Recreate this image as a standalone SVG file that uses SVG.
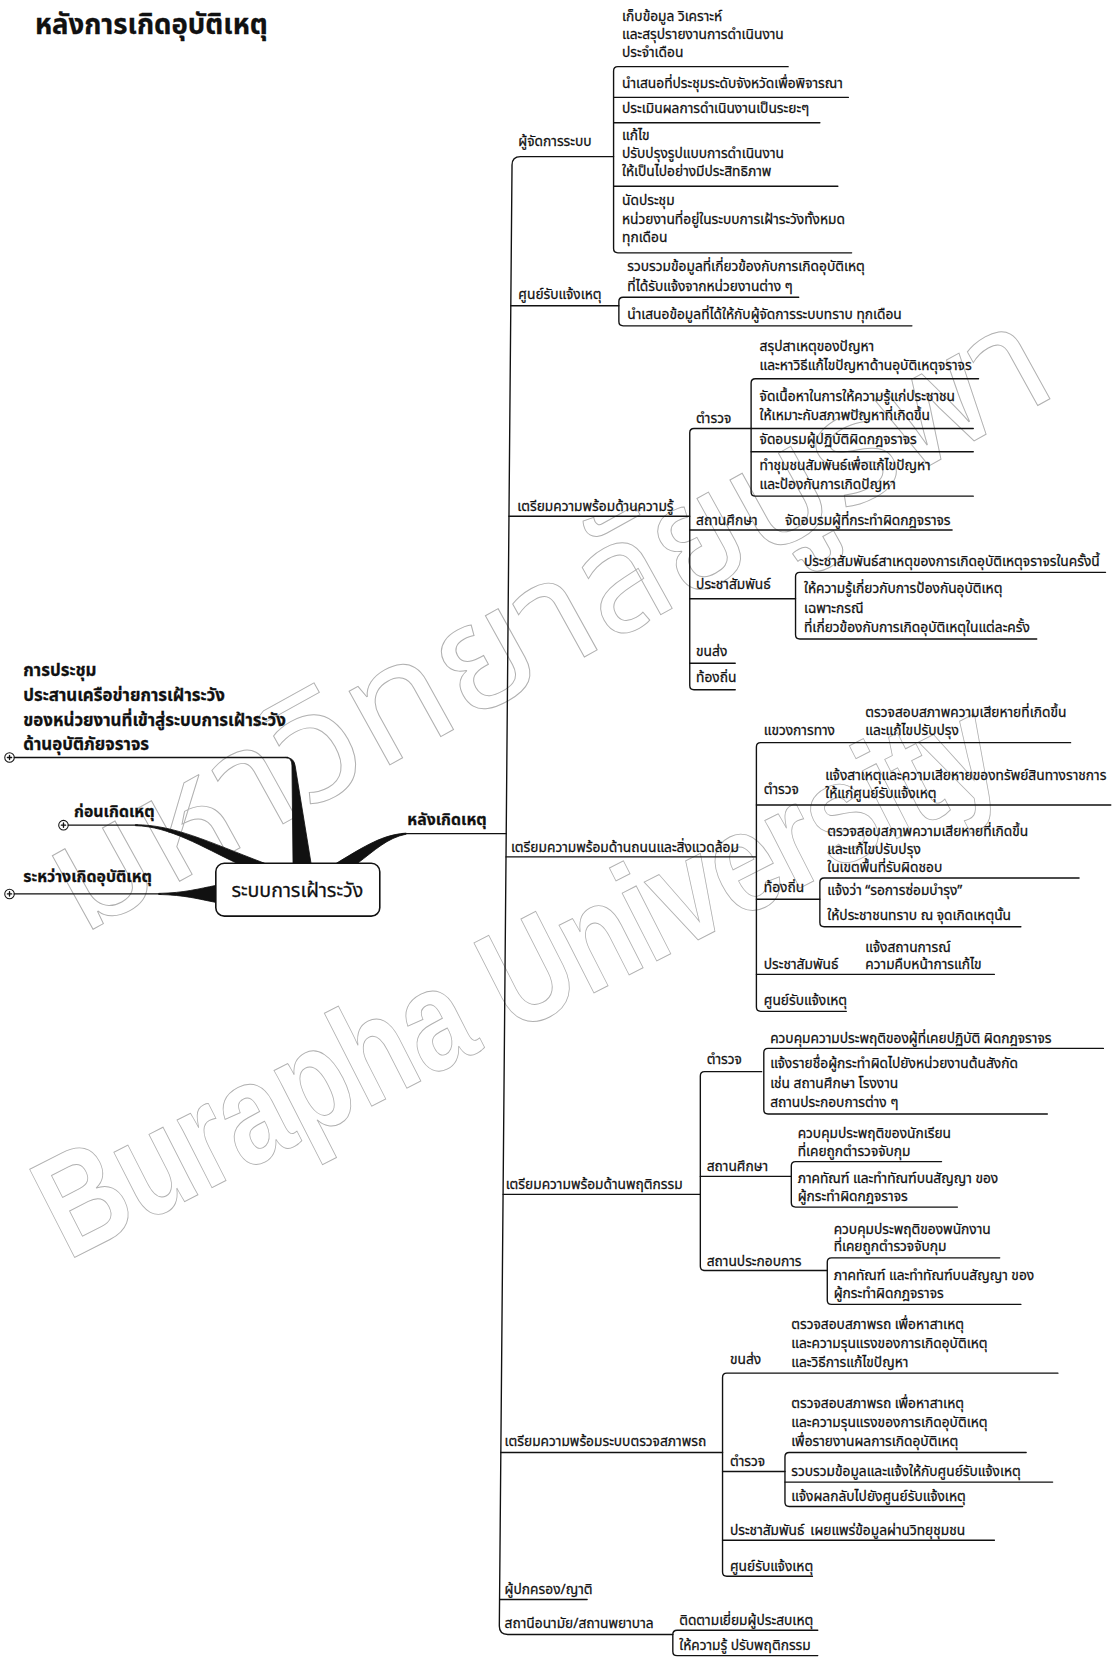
<svg xmlns="http://www.w3.org/2000/svg" width="1115" height="1658" viewBox="0 0 1115 1658">
<style>
.t{font-family:"Noto Sans Thai","Noto Sans Thai UI","Loma","Garuda","Tlwg Typo","Tahoma","Noto Sans",sans-serif;font-size:13px;fill:#111;stroke:#111;stroke-width:0.25px}
.b{font-weight:bold;font-size:15px}
.bl{font-weight:bold;font-size:16px}
.ttl{font-weight:bold;font-size:26px}
.ctr{font-size:18.5px;text-anchor:middle}
.ln{fill:none;stroke:#111;stroke-width:1.3;stroke-linecap:round;stroke-linejoin:round}
.wedge{fill:#111;stroke:#111;stroke-width:0.8}
.wm{fill:none;stroke:#b0b0b0;stroke-width:0.9;font-size:145px;font-family:"Noto Sans Thai","Loma","Garuda","Tahoma","Liberation Sans",sans-serif}
.wml{fill:none;stroke:#b0b0b0;stroke-width:0.9;font-size:136px;font-family:"Liberation Sans",Arial,sans-serif;font-weight:bold}
</style>
<rect width="1115" height="1658" fill="#fff"/>
<g transform="scale(1.0579)">
<g id="watermark">
<text class="wm" transform="translate(76,885) rotate(-29)" textLength="245" lengthAdjust="spacingAndGlyphs">มหา</text>
<text class="wm" transform="translate(290.3,766.2) rotate(-29)" textLength="326" lengthAdjust="spacingAndGlyphs">วิทยา</text>
<text class="wm" transform="translate(575.4,608.2) rotate(-29)" textLength="163" lengthAdjust="spacingAndGlyphs">ลัย</text>
<text class="wm" transform="translate(718,529.2) rotate(-29)" textLength="326" lengthAdjust="spacingAndGlyphs">บูรพา</text>
<text class="wml" transform="translate(64,1192) rotate(-27)" textLength="442" lengthAdjust="spacingAndGlyphs">Burapha</text>
<text class="wml" transform="translate(484.6,977.7) rotate(-27)" textLength="527" lengthAdjust="spacingAndGlyphs">University</text>
</g>
<g id="title"><text class="t ttl" x="33" y="32">หลังการเกิดอุบัติเหตุ</text></g>

<g id="connectors">
<circle cx="9" cy="716" r="4.5" fill="#fff" stroke="#111" stroke-width="1"/>
<path class="ln" d="M7 716 H11 M9 714 V718" stroke-width="0.8"/>
<path class="ln" d="M13.5 716 H272"/>
<path class="wedge" d="M270 716 Q276 716 276 724 L277 816 L294 816 L279 724 Q278 716 270 716 Z"/>
<circle cx="60" cy="780" r="4.5" fill="#fff" stroke="#111" stroke-width="1"/>
<path class="ln" d="M58 780 H62 M60 778 V782" stroke-width="0.8"/>
<path class="ln" d="M64.5 780 H130"/>
<path class="wedge" d="M128 779.5 C165 780 195 795 250 816 L224 816 C192 801 160 781 128 780.5 Z"/>
<circle cx="9" cy="845" r="4.5" fill="#fff" stroke="#111" stroke-width="1"/>
<path class="ln" d="M7 845 H11 M9 843 V847" stroke-width="0.8"/>
<path class="ln" d="M13.5 845 H152"/>
<path class="wedge" d="M150 844.5 C175 844 188 840 204 837 L204 853 C188 850 175 846 150 845.5 Z"/>
<path class="ln" d="M380 788 H478.5"/>
<path class="wedge" d="M384 787.5 C362 789 346 799 318 816 L338 816 C354 804 366 792 384 788.5 Z"/>
<path class="ln" d="M580 148 H492 Q484 148 484 156 L472 1537 Q472 1545 480 1545 H636"/>
<path class="ln" d="M745 63 H584 Q580 63 580 67 V235 Q580 239 584 239 H805"/>
<path class="ln" d="M580 92 H802 M580 116 H775 M580 176 H792"/>
<path class="ln" d="M482.8 289 H585"/>
<path class="ln" d="M755 281 H589 Q585 281 585 285 V304 Q585 308 589 308 H862"/>
<path class="ln" d="M481 488 H652"/>
<path class="ln" d="M710 405 H656 Q652 405 652 409 V648 Q652 652 656 652 H695"/>
<path class="ln" d="M652 501 H900 M652 566 H752 M652 627 H695"/>
<path class="ln" d="M925 358 H714 Q710 358 710 362 V465 Q710 469 714 469 H920"/>
<path class="ln" d="M710 405 H920 M710 427 H920"/>
<path class="ln" d="M1045 541 H756 Q752 541 752 545 V600 Q752 604 756 604 H980"/>
<path class="ln" d="M478.3 810 H715"/>
<path class="ln" d="M1012 702 H719 Q715 702 715 706 V952 Q715 956 719 956 H800"/>
<path class="ln" d="M715 761 H1050 M715 850 H775 M715 921 H940"/>
<path class="ln" d="M1020 830 H779 Q775 830 775 834 V872 Q775 876 779 876 H965"/>
<path class="ln" d="M475.6 1129 H662"/>
<path class="ln" d="M720 1013 H666 Q662 1013 662 1017 V1197 Q662 1201 666 1201 H782"/>
<path class="ln" d="M1043 991 H726 Q722 991 722 995 V1049 Q722 1053 726 1053 H990"/>
<path class="ln" d="M662 1112 H748"/>
<path class="ln" d="M890 1098 H752 Q748 1098 748 1102 V1137 Q748 1141 752 1141 H905"/>
<path class="ln" d="M945 1189 H786 Q782 1189 782 1193 V1229 Q782 1233 786 1233 H965"/>
<path class="ln" d="M473.5 1373 H683"/>
<path class="ln" d="M1000 1298 H687 Q683 1298 683 1302 V1486 Q683 1490 687 1490 H768"/>
<path class="ln" d="M683 1391 H742 M683 1456 H940"/>
<path class="ln" d="M970 1373 H746 Q742 1373 742 1377 V1420 Q742 1424 746 1424 H910"/>
<path class="ln" d="M742 1401 H995"/>
<path class="ln" d="M472.3 1512 H555"/>
<path class="ln" d="M773 1541 H640 Q636 1541 636 1545 V1561 Q636 1565 640 1565 H773"/>
</g>

<g id="left-meeting"><text class="t bl" x="22" y="639">การประชุม</text><text class="t bl" x="22" y="663">ประสานเครือข่ายการเฝ้าระวัง</text><text class="t bl" x="22" y="686">ของหน่วยงานที่เข้าสู่ระบบการเฝ้าระวัง</text><text class="t bl" x="22" y="709">ด้านอุบัติภัยจราจร</text></g>
<g id="left-before"><text class="t b" x="70" y="772">ก่อนเกิดเหตุ</text></g>
<g id="left-during"><text class="t b" x="22" y="834">ระหว่างเกิดอุบัติเหตุ</text></g>
<g id="center"><rect x="204" y="816" width="155" height="50" rx="8" fill="#fff" stroke="#111" stroke-width="1.5"/><text class="t ctr" x="281" y="848">ระบบการเฝ้าระวัง</text></g>
<g id="after"><text class="t b" x="385" y="780" font-size="14.5">หลังเกิดเหตุ</text></g>

<g id="s1"><text class="t" x="490" y="138">ผู้จัดการระบบ</text></g>
<g id="s1c1"><text class="t" x="588" y="20">เก็บข้อมูล วิเคราะห์</text><text class="t" x="588" y="37">และสรุปรายงานการดำเนินงาน</text><text class="t" x="588" y="54">ประจำเดือน</text></g>
<g id="s1c2"><text class="t" x="588" y="83">นำเสนอที่ประชุมระดับจังหวัดเพื่อพิจารณา</text></g>
<g id="s1c3"><text class="t" x="588" y="107">ประเมินผลการดำเนินงานเป็นระยะๆ</text></g>
<g id="s1c4"><text class="t" x="588" y="132">แก้ไข</text><text class="t" x="588" y="149">ปรับปรุงรูปแบบการดำเนินงาน</text><text class="t" x="588" y="166">ให้เป็นไปอย่างมีประสิทธิภาพ</text></g>
<g id="s1c5"><text class="t" x="588" y="194">นัดประชุม</text><text class="t" x="588" y="212">หน่วยงานที่อยู่ในระบบการเฝ้าระวังทั้งหมด</text><text class="t" x="588" y="229">ทุกเดือน</text></g>

<g id="s2"><text class="t" x="490" y="283">ศูนย์รับแจ้งเหตุ</text></g>
<g id="s2c1"><text class="t" x="593" y="256">รวบรวมข้อมูลที่เกี่ยวข้องกับการเกิดอุบัติเหตุ</text><text class="t" x="593" y="275">ที่ได้รับแจ้งจากหน่วยงานต่าง ๆ</text></g>
<g id="s2c2"><text class="t" x="593" y="302">นำเสนอข้อมูลที่ได้ให้กับผู้จัดการระบบทราบ ทุกเดือน</text></g>

<g id="s3"><text class="t" x="489" y="483">เตรียมความพร้อมด้านความรู้</text></g>
<g id="s3a"><text class="t" x="658" y="400">ตำรวจ</text></g>
<g id="s3a1"><text class="t" x="718" y="332">สรุปสาเหตุของปัญหา</text><text class="t" x="718" y="350">และหาวิธีแก้ไขปัญหาด้านอุบัติเหตุจราจร</text></g>
<g id="s3a2"><text class="t" x="718" y="379">จัดเนื้อหาในการให้ความรู้แก่ประชาชน</text><text class="t" x="718" y="397">ให้เหมาะกับสภาพปัญหาที่เกิดขึ้น</text></g>
<g id="s3a3"><text class="t" x="718" y="420">จัดอบรมผู้ปฏิบัติผิดกฎจราจร</text></g>
<g id="s3a4"><text class="t" x="718" y="444">ทำชุมชนสัมพันธ์เพื่อแก้ไขปัญหา</text><text class="t" x="718" y="462">และป้องกันการเกิดปัญหา</text></g>
<g id="s3b"><text class="t" x="658" y="496">สถานศึกษา</text></g>
<g id="s3b1"><text class="t" x="742" y="496">จัดอบรมผู้ที่กระทำผิดกฎจราจร</text></g>
<g id="s3c"><text class="t" x="658" y="557">ประชาสัมพันธ์</text></g>
<g id="s3c1"><text class="t" x="760" y="535">ประชาสัมพันธ์สาเหตุของการเกิดอุบัติเหตุจราจรในครั้งนี้</text></g>
<g id="s3c2"><text class="t" x="760" y="561">ให้ความรู้เกี่ยวกับการป้องกันอุบัติเหตุ</text><text class="t" x="760" y="579">เฉพาะกรณี</text><text class="t" x="760" y="597">ที่เกี่ยวข้องกับการเกิดอุบัติเหตุในแต่ละครั้ง</text></g>
<g id="s3d"><text class="t" x="658" y="620">ขนส่ง</text></g>
<g id="s3e"><text class="t" x="658" y="645">ท้องถิ่น</text></g>

<g id="s4"><text class="t" x="483" y="805">เตรียมความพร้อมด้านถนนและสิ่งแวดล้อม</text></g>
<g id="s4a"><text class="t" x="722" y="695">แขวงการทาง</text></g>
<g id="s4a1"><text class="t" x="818" y="678">ตรวจสอบสภาพความเสียหายที่เกิดขึ้น</text><text class="t" x="818" y="695">และแก้ไขปรับปรุง</text></g>
<g id="s4b"><text class="t" x="722" y="751">ตำรวจ</text></g>
<g id="s4b1"><text class="t" x="780" y="737">แจ้งสาเหตุและความเสียหายของทรัพย์สินทางราชการ</text><text class="t" x="780" y="754">ให้แก่ศูนย์รับแจ้งเหตุ</text></g>
<g id="s4c"><text class="t" x="722" y="843">ท้องถิ่น</text></g>
<g id="s4c1"><text class="t" x="782" y="790">ตรวจสอบสภาพความเสียหายที่เกิดขึ้น</text><text class="t" x="782" y="807">และแก้ไขปรับปรุง</text><text class="t" x="782" y="824">ในเขตพื้นที่รับผิดชอบ</text></g>
<g id="s4c2"><text class="t" x="782" y="846">แจ้งว่า “รอการซ่อมบำรุง”</text><text class="t" x="782" y="870">ให้ประชาชนทราบ ณ จุดเกิดเหตุนั้น</text></g>
<g id="s4d"><text class="t" x="722" y="916">ประชาสัมพันธ์</text></g>
<g id="s4d1"><text class="t" x="818" y="900">แจ้งสถานการณ์</text><text class="t" x="818" y="916">ความคืบหน้าการแก้ไข</text></g>
<g id="s4e"><text class="t" x="722" y="950">ศูนย์รับแจ้งเหตุ</text></g>

<g id="s5"><text class="t" x="478" y="1124">เตรียมความพร้อมด้านพฤติกรรม</text></g>
<g id="s5a"><text class="t" x="668" y="1006">ตำรวจ</text></g>
<g id="s5a1"><text class="t" x="728" y="986">ควบคุมความประพฤติของผู้ที่เคยปฏิบัติ ผิดกฎจราจร</text></g>
<g id="s5a2"><text class="t" x="728" y="1010">แจ้งรายชื่อผู้กระทำผิดไปยังหน่วยงานต้นสังกัด</text><text class="t" x="728" y="1028">เช่น สถานศึกษา โรงงาน</text><text class="t" x="728" y="1046">สถานประกอบการต่าง ๆ</text></g>
<g id="s5b"><text class="t" x="668" y="1107">สถานศึกษา</text></g>
<g id="s5b1"><text class="t" x="754" y="1076">ควบคุมประพฤติของนักเรียน</text><text class="t" x="754" y="1093">ที่เคยถูกตำรวจจับกุม</text></g>
<g id="s5b2"><text class="t" x="754" y="1118">ภาคทัณฑ์ และทำทัณฑ์บนสัญญา ของ</text><text class="t" x="754" y="1135">ผู้กระทำผิดกฎจราจร</text></g>
<g id="s5c"><text class="t" x="668" y="1197">สถานประกอบการ</text></g>
<g id="s5c1"><text class="t" x="788" y="1166">ควบคุมประพฤติของพนักงาน</text><text class="t" x="788" y="1183">ที่เคยถูกตำรวจจับกุม</text></g>
<g id="s5c2"><text class="t" x="788" y="1210">ภาคทัณฑ์ และทำทัณฑ์บนสัญญา ของ</text><text class="t" x="788" y="1227">ผู้กระทำผิดกฎจราจร</text></g>

<g id="s6"><text class="t" x="477" y="1367">เตรียมความพร้อมระบบตรวจสภาพรถ</text></g>
<g id="s6a"><text class="t" x="690" y="1289">ขนส่ง</text></g>
<g id="s6a1"><text class="t" x="748" y="1256">ตรวจสอบสภาพรถ เพื่อหาสาเหตุ</text><text class="t" x="748" y="1274">และความรุนแรงของการเกิดอุบัติเหตุ</text><text class="t" x="748" y="1292">และวิธีการแก้ไขปัญหา</text></g>
<g id="s6b"><text class="t" x="690" y="1386">ตำรวจ</text></g>
<g id="s6b1"><text class="t" x="748" y="1331">ตรวจสอบสภาพรถ เพื่อหาสาเหตุ</text><text class="t" x="748" y="1349">และความรุนแรงของการเกิดอุบัติเหตุ</text><text class="t" x="748" y="1367">เพื่อรายงานผลการเกิดอุบัติเหตุ</text></g>
<g id="s6b2"><text class="t" x="748" y="1395">รวบรวมข้อมูลและแจ้งให้กับศูนย์รับแจ้งเหตุ</text></g>
<g id="s6b3"><text class="t" x="748" y="1419">แจ้งผลกลับไปยังศูนย์รับแจ้งเหตุ</text></g>
<g id="s6c"><text class="t" x="690" y="1451">ประชาสัมพันธ์</text></g>
<g id="s6c1"><text class="t" x="766" y="1451">เผยแพร่ข้อมูลผ่านวิทยุชุมชน</text></g>
<g id="s6d"><text class="t" x="690" y="1485">ศูนย์รับแจ้งเหตุ</text></g>

<g id="s7"><text class="t" x="477" y="1507">ผู้ปกครอง/ญาติ</text></g>
<g id="s8"><text class="t" x="477" y="1539">สถานีอนามัย/สถานพยาบาล</text></g>
<g id="s8a"><text class="t" x="642" y="1536">ติดตามเยี่ยมผู้ประสบเหตุ</text></g>
<g id="s8b"><text class="t" x="642" y="1560">ให้ความรู้ ปรับพฤติกรรม</text></g>
</g>
</svg>
